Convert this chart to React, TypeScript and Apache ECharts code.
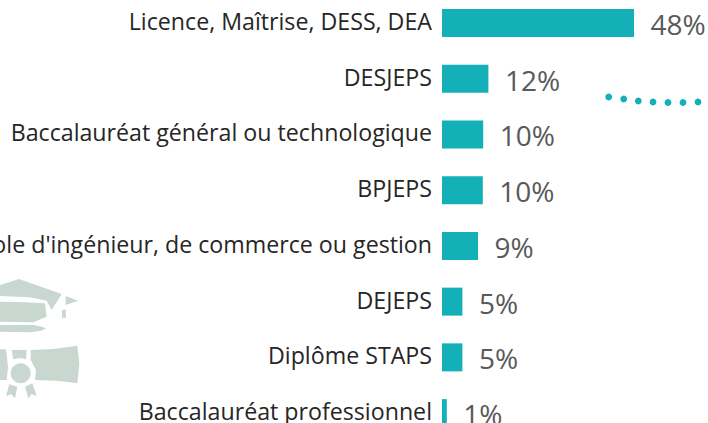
import React, { useEffect, useRef } from "react";
import * as echarts from "echarts";

const categories = [
  "Licence, Maîtrise, DESS, DEA",
  "DESJEPS",
  "Baccalauréat général ou technologique",
  "BPJEPS",
  "École d'ingénieur, de commerce ou gestion",
  "DEJEPS",
  "Diplôme STAPS",
  "Baccalauréat professionnel",
];
const barLengths = [48, 11.6, 10.3, 10.2, 9, 5.1, 5.1, 1.2];
const valueLabels = ["48%", "12%", "10%", "10%", "9%", "5%", "5%", "1%"];
const dotX = [608.7, 623.7, 638.3, 653, 668, 683, 698];
const dotY = [97, 99, 101, 102, 102.5, 102.5, 102];

const iconColor = "#c8d8d0";
const iconPolys: number[][][] = [
  [[0, 45], [57, 27], [185, 72], [155, 120], [140, 92], [90, 82], [0, 78]],
  [[0, 95], [70, 97], [135, 100], [140, 140], [100, 157], [0, 155]],
  [[0, 165], [100, 165], [125, 170], [138, 175], [125, 182], [90, 187], [0, 185]],
  [[197, 78], [235, 92], [197, 105]],
  [[186, 120], [197, 118], [198, 143], [186, 143]],
  [[92, 240], [160, 237], [232, 227], [238, 280], [232, 340], [170, 332], [105, 330], [108, 300], [92, 270]],
  [[35, 240], [80, 240], [78, 268], [62, 264], [40, 268]],
  [[0, 238], [18, 238], [24, 290], [20, 330], [0, 330]],
  [[28, 343], [52, 350], [45, 385], [33, 372], [18, 378]],
  [[75, 350], [97, 340], [110, 378], [95, 372], [85, 385]],
];
const shiftY = 5;
const toPage = (p: number[]) => [p[0] / 3, shiftY + 270 + p[1] / 3];

export default function App() {
  const ref = useRef<HTMLDivElement>(null);
  useEffect(() => {
    document.body.style.margin = "0";
    document.body.style.overflow = "hidden";
    const chart = echarts.init(ref.current!, null, { renderer: "svg" });
    const font = "'Open Sans', sans-serif";
    chart.setOption({
      animation: false,
      grid: { left: 442, right: 0, top: 0, bottom: 0, containLabel: false, outerBoundsMode: "none" },
      xAxis: { type: "value", min: 0, max: 66.5, show: false },
      yAxis: {
        type: "category",
        inverse: true,
        data: categories,
        axisLine: { show: false },
        axisTick: { show: false },
        axisLabel: {
          color: "#262626",
          fontSize: 23.2,
          fontFamily: font,
          margin: 10,
          verticalAlign: "bottom",
          lineHeight: 4,
        },
      },
      series: [
        {
          type: "bar",
          data: barLengths,
          barWidth: 28,
          itemStyle: { color: "#13b0b7" },
          label: {
            show: true,
            position: "right",
            distance: 16.5,
            offset: [0, 1],
            color: "#595959",
            fontSize: 28,
            fontFamily: font,
            formatter: (p: any) => valueLabels[p.dataIndex],
          },
        },
      ],
      graphic: [
        ...iconPolys.map((poly) => ({
          type: "polygon",
          silent: true,
          shape: { points: poly.map(toPage) },
          style: { fill: iconColor },
        })),
        {
          type: "circle",
          silent: true,
          shape: { cx: 62 / 3, cy: shiftY + 270 + 310 / 3, r: 10 },
          style: { fill: iconColor },
        },
        ...dotX.map((x, i) => ({
          type: "circle",
          silent: true,
          shape: { cx: x, cy: shiftY + dotY[i], r: 3.4 },
          style: { fill: "#13b0b7" },
        })),
      ],
    });
    return () => chart.dispose();
  }, []);
  return (
    <div style={{ width: 708, height: 423, overflow: "hidden", position: "relative" }}>
      <div ref={ref} style={{ position: "absolute", left: 0, top: -shiftY, width: 708, height: 445.6 }} />
    </div>
  );
}
